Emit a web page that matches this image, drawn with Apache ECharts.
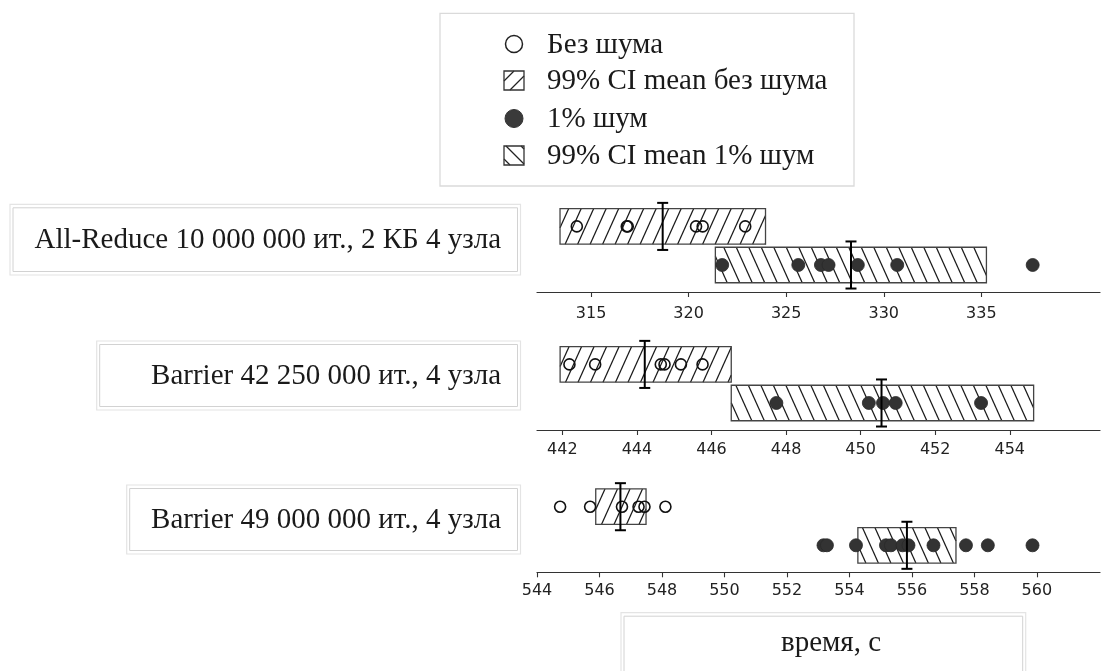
<!DOCTYPE html>
<html>
<head>
<meta charset="utf-8">
<script src="https://cdn.jsdelivr.net/npm/echarts@6/dist/echarts.min.js"></script>
<style>
  html, body { margin: 0; padding: 0; background: #fff; }
  #chart { width: 1101px; height: 671px; }
</style>
</head>
<body>
<div id="chart"></div>
<script>
// ---------- data ----------
const categories = [
  'All-Reduce 10 000 000 ит., 2 КБ 4 узла',
  'Barrier 42 250 000 ит., 4 узла',
  'Barrier 49 000 000 ит., 4 узла'
];
const legendNames = ['Без шума', '99% CI mean без шума', '1% шум', '99% CI mean 1% шум'];
const xAxisName = 'время, с';

const noNoisePts = [
  [314.27, 316.83, 316.88, 320.38, 320.72, 322.90],
  [442.19, 442.88, 444.64, 444.74, 445.18, 445.76],
  [544.74, 545.70, 546.72, 547.25, 547.44, 548.11]
];
const noisePts = [
  [321.72, 325.62, 326.78, 327.17, 328.67, 330.69, 337.63],
  [447.74, 450.22, 450.60, 450.94, 453.23],
  [553.17, 553.28, 554.21, 555.17, 555.33, 555.70, 555.89, 556.69, 557.73, 558.43, 559.86]
];
const ciNoNoise = [[313.41, 323.94], [441.94, 446.53], [545.88, 547.49]];
const meanNoNoise = [318.67, 444.21, 546.67];
const ciNoise = [[321.37, 335.26], [446.53, 454.64], [554.27, 557.41]];
const meanNoise = [328.32, 450.56, 555.84];

const axisMin = [312.23, 441.32, 544.0];
const axisMax = [341.08, 456.42, 562.02];
const tickValues = [
  [315, 320, 325, 330, 335],
  [442, 444, 446, 448, 450, 452, 454],
  [544, 546, 548, 550, 552, 554, 556, 558, 560]
];

// ---------- layout / style ----------
const ROW_NO = 1, ROW_NOISE = 0;
const BOX_HALF = 0.46, MEAN_HALF = 0.61;
const GRID_TOPS = [199.4, 337.4, 479.7];
const GRID_H = 92.6;
const LABEL_MARGINS = [13.5, 12, 11];
const SERIF_FONT = "29px 'Liberation Serif', 'DejaVu Serif', serif";

function hatchLines(x0, y0, x1, y1, dir, sp, s) {
  const out = [];
  const sign = dir === '/' ? 1 : -1;
  const cs = [x0 + sign * s * y0, x0 + sign * s * y1, x1 + sign * s * y0, x1 + sign * s * y1];
  const cmin = Math.min.apply(null, cs), cmax = Math.max.apply(null, cs);
  for (let c = Math.ceil(cmin / sp) * sp; c <= cmax; c += sp) {
    const xa = c - sign * s * y1, xb = c - sign * s * y0;
    const dx = xb - xa;
    let t0 = 0, t1 = 1;
    if (Math.abs(dx) > 1e-9) {
      const ta = (x0 - xa) / dx, tb = (x1 - xa) / dx;
      t0 = Math.max(0, Math.min(ta, tb));
      t1 = Math.min(1, Math.max(ta, tb));
    }
    if (t1 - t0 > 1e-6) {
      out.push({
        x1: xa + t0 * dx, y1: y1 + t0 * (y0 - y1),
        x2: xa + t1 * dx, y2: y1 + t1 * (y0 - y1)
      });
    }
  }
  return out;
}

function boxRender(dir) {
  return function (params, api) {
    const lo = api.value(0), hi = api.value(1), row = api.value(2);
    const a = api.coord([lo, row + BOX_HALF]);
    const b = api.coord([hi, row - BOX_HALF]);
    const x0 = a[0], y0 = a[1], x1 = b[0], y1 = b[1];
    const children = [{
      type: 'rect',
      shape: { x: x0, y: y0, width: x1 - x0, height: y1 - y0 },
      style: { fill: '#fff', stroke: 'none' }
    }];
    hatchLines(x0, y0, x1, y1, dir, 12.5, 0.45).forEach(function (l) {
      children.push({ type: 'line', shape: l, style: { stroke: '#1a1a1a', lineWidth: 1.25 } });
    });
    children.push({
      type: 'rect',
      shape: { x: x0, y: y0, width: x1 - x0, height: y1 - y0 },
      style: { fill: 'none', stroke: '#444', lineWidth: 1.3 }
    });
    return { type: 'group', children: children };
  };
}

function meanRender(params, api) {
  const v = api.value(0), row = api.value(1);
  const t = api.coord([v, row + MEAN_HALF]);
  const b = api.coord([v, row - MEAN_HALF]);
  const st = { stroke: '#000', lineWidth: 2 };
  return {
    type: 'group',
    children: [
      { type: 'line', shape: { x1: t[0], y1: t[1], x2: b[0], y2: b[1] }, style: st },
      { type: 'line', shape: { x1: t[0] - 5.5, y1: t[1], x2: t[0] + 5.5, y2: t[1] }, style: st },
      { type: 'line', shape: { x1: b[0] - 5.5, y1: b[1], x2: b[0] + 5.5, y2: b[1] }, style: st }
    ]
  };
}

const grids = [], xAxes = [], yAxes = [], series = [];
for (let i = 0; i < 3; i++) {
  grids.push({ left: 537, width: 563, top: GRID_TOPS[i], height: GRID_H, containLabel: false });
  xAxes.push({
    type: 'value', gridIndex: i, min: axisMin[i], max: axisMax[i],
    axisLine: { show: true, onZero: false, lineStyle: { color: '#333', width: 1.2 } },
    axisTick: { show: true, customValues: tickValues[i], length: 5, lineStyle: { color: '#333', width: 1.1 } },
    axisLabel: {
      show: true, customValues: tickValues[i], margin: LABEL_MARGINS[i],
      fontFamily: 'DejaVu Sans', fontSize: 16, color: '#222'
    },
    splitLine: { show: false }
  });
  yAxes.push({ type: 'value', gridIndex: i, min: -0.7, max: 1.7, show: false });

  series.push({
    name: legendNames[1], type: 'custom', xAxisIndex: i, yAxisIndex: i, z: 1, silent: true,
    renderItem: boxRender('/'),
    data: [[ciNoNoise[i][0], ciNoNoise[i][1], ROW_NO]]
  });
  series.push({
    name: legendNames[3], type: 'custom', xAxisIndex: i, yAxisIndex: i, z: 1, silent: true,
    renderItem: boxRender('\\'),
    data: [[ciNoise[i][0], ciNoise[i][1], ROW_NOISE]]
  });
  series.push({
    name: legendNames[0], type: 'scatter', xAxisIndex: i, yAxisIndex: i, z: 3, silent: true,
    symbol: 'circle', symbolSize: 11,
    itemStyle: { color: 'rgba(255,255,255,0)', borderColor: '#111', borderWidth: 1.6, opacity: 1 },
    data: noNoisePts[i].map(function (v) { return [v, ROW_NO]; })
  });
  series.push({
    name: legendNames[2], type: 'scatter', xAxisIndex: i, yAxisIndex: i, z: 3, silent: true,
    symbol: 'circle', symbolSize: 13,
    itemStyle: { color: '#333', borderColor: '#2a2a2a', borderWidth: 0.8, opacity: 1 },
    data: noisePts[i].map(function (v) { return [v, ROW_NOISE]; })
  });
  series.push({
    type: 'custom', xAxisIndex: i, yAxisIndex: i, z: 4, silent: true,
    renderItem: meanRender,
    data: [[meanNoNoise[i], ROW_NO], [meanNoise[i], ROW_NOISE]]
  });
}

// ---------- graphic: label boxes, legend, x-axis name ----------
function doubleBox(x0, y0, x1, y1) {
  return [
    { type: 'rect', shape: { x: x0, y: y0, width: x1 - x0, height: y1 - y0 },
      style: { fill: '#fff', stroke: '#e4e4e4', lineWidth: 1.2 }, z: 0 },
    { type: 'rect', shape: { x: x0 + 3, y: y0 + 3.5, width: x1 - x0 - 6, height: y1 - y0 - 7 },
      style: { fill: 'none', stroke: '#d2d2d2', lineWidth: 1 }, z: 0 }
  ];
}
const graphics = [];
const labelBoxes = [[10, 204.3, 520.5, 275], [96.7, 341, 520.5, 410], [126.7, 485, 520.5, 554]];
for (let i = 0; i < 3; i++) {
  const bx = labelBoxes[i];
  doubleBox(bx[0], bx[1], bx[2], bx[3]).forEach(function (g) { graphics.push(g); });
  graphics.push({
    type: 'text', z: 1,
    style: {
      text: categories[i], x: 501, y: (bx[1] + bx[3]) / 2 + 1,
      align: 'right', verticalAlign: 'middle',
      font: SERIF_FONT, fill: '#1a1a1a'
    }
  });
}
doubleBox(621, 612.7, 1025.7, 676).forEach(function (g) { graphics.push(g); });
graphics.push({
  type: 'text', z: 1,
  style: { text: xAxisName, x: 831, y: 643.5, align: 'center', verticalAlign: 'middle',
    font: SERIF_FONT, fill: '#1a1a1a' }
});
graphics.push({ type: 'rect', shape: { x: 440, y: 13.3, width: 414, height: 172.7 },
  style: { fill: '#fff', stroke: '#dadada', lineWidth: 1.3 }, z: 0 });
const legendRows = [44, 80.5, 118.5, 155.5];
const ICON_X = 514, TEXT_X = 547;
graphics.push({ type: 'circle', shape: { cx: ICON_X, cy: legendRows[0], r: 8.5 },
  style: { fill: 'none', stroke: '#222', lineWidth: 1.5 }, z: 1 });
graphics.push({ type: 'circle', shape: { cx: ICON_X, cy: legendRows[2], r: 9 },
  style: { fill: '#3a3a3a', stroke: '#333', lineWidth: 1 }, z: 1 });
[[1, '/'], [3, '\\']].forEach(function (r) {
  const cy = legendRows[r[0]];
  const x0 = ICON_X - 10, x1 = ICON_X + 10, y0 = cy - 9.5, y1 = cy + 9.5;
  hatchLines(x0, y0, x1, y1, r[1], 15, 1).forEach(function (l) {
    graphics.push({ type: 'line', shape: l, style: { stroke: '#222', lineWidth: 1.2 }, z: 1 });
  });
  graphics.push({ type: 'rect', shape: { x: x0, y: y0, width: 20, height: 19 },
    style: { fill: 'none', stroke: '#333', lineWidth: 1.3 }, z: 1 });
});
for (let k = 0; k < 4; k++) {
  graphics.push({
    type: 'text', z: 1,
    style: { text: legendNames[k], x: TEXT_X, y: legendRows[k] + 1, align: 'left', verticalAlign: 'middle',
      font: SERIF_FONT, fill: '#1a1a1a' }
  });
}

const chart = echarts.init(document.getElementById('chart'));
chart.setOption({
  animation: false,
  backgroundColor: '#fff',
  grid: grids,
  xAxis: xAxes,
  yAxis: yAxes,
  series: series,
  graphic: { elements: graphics }
});
</script>
</body>
</html>
